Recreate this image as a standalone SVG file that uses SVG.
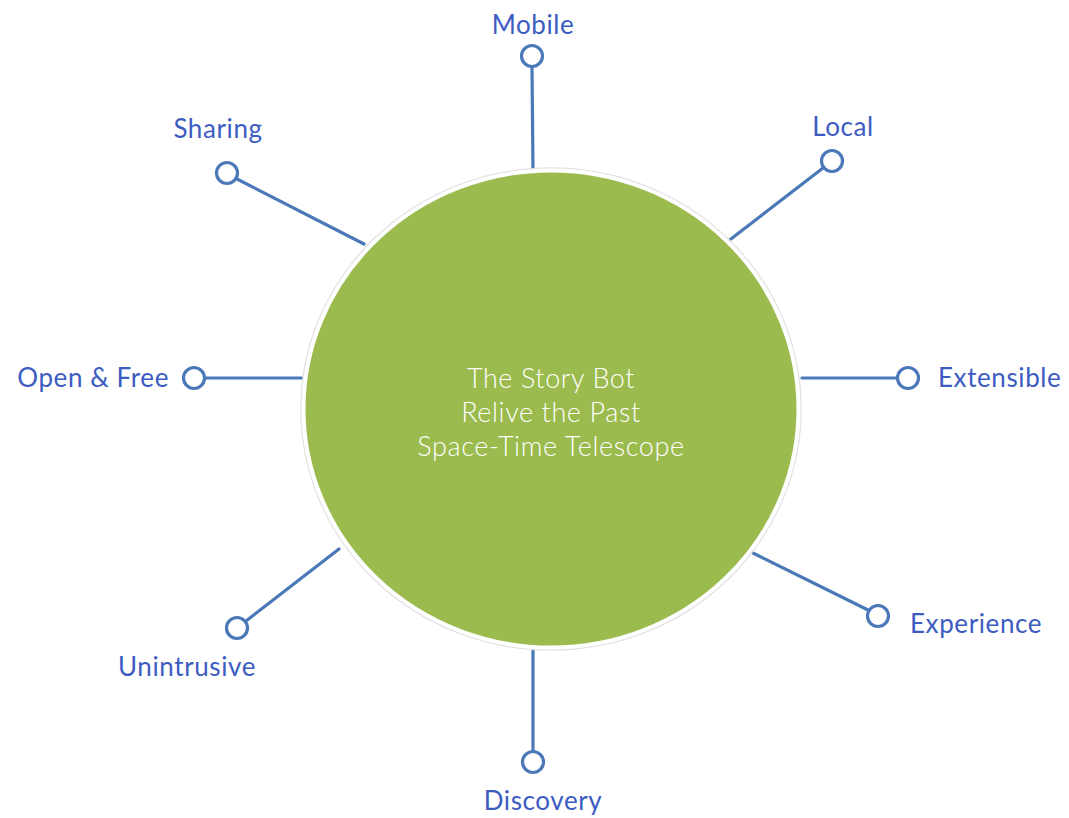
<svg xmlns="http://www.w3.org/2000/svg" width="1069" height="818" viewBox="0 0 1069 818">
<style>
.lbl{font-family:Lato,"Noto Sans","Liberation Sans",sans-serif;font-size:26px;letter-spacing:0.6px;fill:#3d5cc2}
.ctr{font-family:Lato,"Noto Sans","Liberation Sans",sans-serif;font-size:27px;font-weight:300;letter-spacing:0.6px;fill:#ffffff;text-anchor:middle}
.conn{stroke:#4a78b8;stroke-width:3.2;fill:none;stroke-linecap:round}
.ring{stroke:#4a78b8;stroke-width:3.2;fill:#ffffff}
</style>
<rect width="1069" height="818" fill="#ffffff"/>
<g id="connectors">
<line class="conn" x1="532" y1="68" x2="533" y2="170"/>
<line class="conn" x1="237" y1="179" x2="364" y2="244"/>
<line class="conn" x1="823" y1="168" x2="727" y2="242"/>
<line class="conn" x1="206" y1="378" x2="302" y2="378"/>
<line class="conn" x1="896" y1="378" x2="802" y2="378"/>
<line class="conn" x1="868" y1="610" x2="747" y2="550"/>
<line class="conn" x1="246" y1="621" x2="339" y2="549"/>
<line class="conn" x1="533" y1="750" x2="533" y2="650"/>
</g>
<g id="center">
<ellipse cx="551" cy="409" rx="250" ry="241" fill="none" stroke="#e2e2e2" stroke-width="1.5"/>
<ellipse cx="551" cy="409" rx="247.5" ry="238.5" fill="#9bbb4e" stroke="#ffffff" stroke-width="4"/>
<text class="ctr" x="551" y="388">The Story Bot</text>
<text class="ctr" x="551" y="422">Relive the Past</text>
<text class="ctr" x="551" y="456">Space-Time Telescope</text>
</g>
<g id="mobile"><circle class="ring" cx="532" cy="56" r="10.5"/><text class="lbl" x="533" y="34" text-anchor="middle">Mobile</text></g>
<g id="sharing"><circle class="ring" cx="227" cy="173" r="10.5"/><text class="lbl" x="218" y="138" text-anchor="middle">Sharing</text></g>
<g id="local"><circle class="ring" cx="832" cy="161" r="10.5"/><text class="lbl" x="843" y="136" text-anchor="middle">Local</text></g>
<g id="open-free"><circle class="ring" cx="194" cy="378" r="10.5"/><text class="lbl" x="169" y="387" text-anchor="end">Open &amp; Free</text></g>
<g id="extensible"><circle class="ring" cx="908" cy="378" r="10.5"/><text class="lbl" x="938" y="387">Extensible</text></g>
<g id="experience"><circle class="ring" cx="878" cy="616" r="10.5"/><text class="lbl" x="910" y="633">Experience</text></g>
<g id="unintrusive"><circle class="ring" cx="237" cy="628" r="10.5"/><text class="lbl" x="187" y="676" text-anchor="middle">Unintrusive</text></g>
<g id="discovery"><circle class="ring" cx="533" cy="762" r="10.5"/><text class="lbl" x="543" y="810" text-anchor="middle">Discovery</text></g>
</svg>
